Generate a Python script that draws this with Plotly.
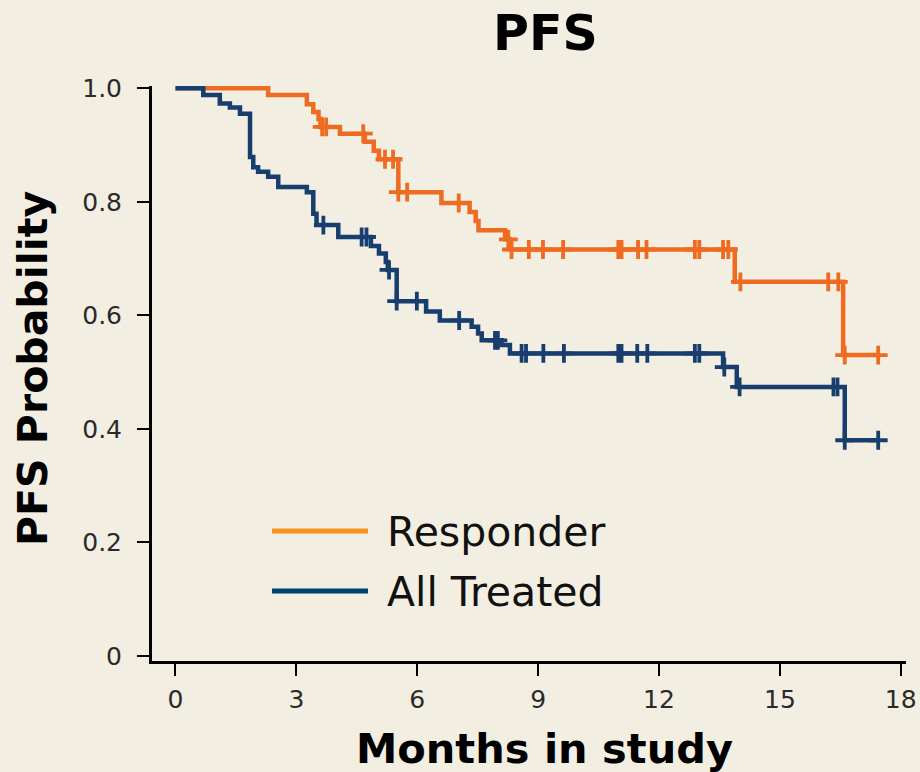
import plotly.graph_objects as go

# ---------------- data ----------------
month_ticks = [0, 3, 6, 9, 12, 15, 18]
prob_ticks = [0, 0.2, 0.4, 0.6, 0.8, 1.0]
prob_tick_labels = ["0", "0.2", "0.4", "0.6", "0.8", "1.0"]

# Responder: step times and survival after each step
resp_step_t = [0, 2.30, 3.26, 3.42, 3.55, 3.60, 4.08, 4.70, 4.92, 5.05, 5.53,
               6.60, 7.30, 7.45, 7.52, 8.18, 8.30, 13.88, 16.57]
resp_step_s = [1.000, 0.988, 0.972, 0.958, 0.946, 0.932, 0.920, 0.906, 0.890, 0.875, 0.817,
               0.798, 0.782, 0.766, 0.750, 0.734, 0.716, 0.659, 0.530]
resp_end = 17.44
resp_censor = [3.64, 3.74, 4.66, 5.20, 5.40, 5.53, 5.75, 7.03, 8.26, 8.34, 8.77, 9.12,
               9.62, 10.99, 11.07, 11.48, 11.69, 12.89, 13.00, 13.59, 13.72, 14.02,
               16.20, 16.45, 16.61, 17.44]

# All Treated
all_step_t = [0, 0.69, 1.10, 1.35, 1.60, 1.85, 1.93, 2.05, 2.30, 2.55, 3.26, 3.42, 3.50,
              4.04, 4.85, 5.05, 5.22, 5.27, 5.49, 6.22, 6.56, 7.35, 7.51, 7.60, 8.09, 8.30,
              13.59, 13.93, 16.61]
all_step_s = [1.000, 0.988, 0.973, 0.966, 0.955, 0.879, 0.861, 0.853, 0.844, 0.826, 0.817,
              0.779, 0.759, 0.738, 0.722, 0.709, 0.694, 0.680, 0.625, 0.607, 0.591, 0.580,
              0.568, 0.556, 0.548, 0.533, 0.509, 0.474, 0.380]
all_end = 17.44
all_censor = [3.67, 4.62, 4.74, 5.30, 5.49, 5.99, 7.04, 7.93, 8.00, 8.59, 8.70, 9.13, 9.64,
              10.99, 11.07, 11.46, 11.71, 12.89, 13.00, 13.62, 14.00, 16.33, 16.43, 16.61,
              17.44]

series_names = ["Responder", "All Treated"]
line_colors = ["#EE6B22", "#173E6E"]
legend_colors = ["#F7931E", "#00426D"]

# ---------------- helpers ----------------
def surv_at(t, st, ss):
    v = ss[0]
    for a, b in zip(st, ss):
        if a <= t + 1e-9:
            v = b
    return v

BG = "#F2EEE1"
W, H = 920, 772
L, R, T, B = 152, 906, 86, 661   # plot area in pixels

def px_x(p):
    return (p - L) / (R - L)

def px_y(p):
    return (B - p) / (B - T)

fig = go.Figure()

curves = [(resp_step_t, resp_step_s, resp_end, resp_censor),
          (all_step_t, all_step_s, all_end, all_censor)]

for i, (st, ss, end, cens) in enumerate(curves):
    fig.add_trace(go.Scatter(
        x=st + [end], y=ss + [ss[-1]], mode="lines", line_shape="hv",
        line=dict(color=line_colors[i], width=4.5), name=series_names[i],
        showlegend=False, hoverinfo="skip"))
    fig.add_trace(go.Scatter(
        x=cens, y=[surv_at(c, st, ss) for c in cens], mode="markers",
        marker=dict(symbol="cross-thin", size=13.5,
                    line=dict(color=line_colors[i], width=3.8)),
        showlegend=False, hoverinfo="skip", cliponaxis=False))

# manual legend
leg_y = [531, 591]
for i, name in enumerate(series_names):
    fig.add_shape(type="line", xref="paper", yref="paper",
                  x0=px_x(272), x1=px_x(368), y0=px_y(leg_y[i]), y1=px_y(leg_y[i]),
                  line=dict(color=legend_colors[i], width=5))
    fig.add_annotation(xref="paper", yref="paper", x=px_x(385), y=px_y(leg_y[i] + 1),
                       xanchor="left", yanchor="middle", text=name, showarrow=False,
                       font=dict(family="DejaVu Sans", size=41, color="#111111"))

# titles
fig.add_annotation(xref="paper", yref="paper", x=px_x(545), y=px_y(33),
                   xanchor="center", yanchor="middle", text="PFS", showarrow=False,
                   font=dict(family="DejaVu Sans", size=49, color="#000000", weight="bold"))
fig.add_annotation(xref="paper", yref="paper", x=px_x(544), y=px_y(748),
                   xanchor="center", yanchor="middle", text="Months in study", showarrow=False,
                   font=dict(family="DejaVu Sans", size=41.5, color="#000000", weight="bold"))
fig.add_annotation(xref="paper", yref="paper", x=px_x(33), y=px_y(369),
                   xanchor="center", yanchor="middle", text="PFS Probability", showarrow=False,
                   textangle=-90,
                   font=dict(family="DejaVu Sans", size=41, color="#000000", weight="bold"))

fig.update_layout(
    width=W, height=H, margin=dict(l=L, r=W - R, t=T, b=H - B, autoexpand=False),
    paper_bgcolor=BG, plot_bgcolor=BG, showlegend=False,
    font=dict(family="DejaVu Sans", color="#222222"),
    xaxis=dict(range=[-0.583, 18.13], tickvals=month_ticks,
               ticktext=[str(v) for v in month_ticks], automargin=False,
               showgrid=False, zeroline=False, showline=True, linecolor="#000000",
               linewidth=3, ticks="outside", ticklen=12, tickwidth=2, tickcolor="#000000",
               tickfont=dict(size=25, color="#2a2a2a"), ticklabelstandoff=2),
    yaxis=dict(range=[-0.0088, 1.004], tickvals=prob_ticks, ticktext=prob_tick_labels,
               automargin=False,
               showgrid=False, zeroline=False, showline=True, linecolor="#000000",
               linewidth=3, ticks="outside", ticklen=12, tickwidth=2, tickcolor="#000000",
               tickfont=dict(size=25, color="#2a2a2a"), ticklabelstandoff=10),
)

fig.write_html("out.html")
